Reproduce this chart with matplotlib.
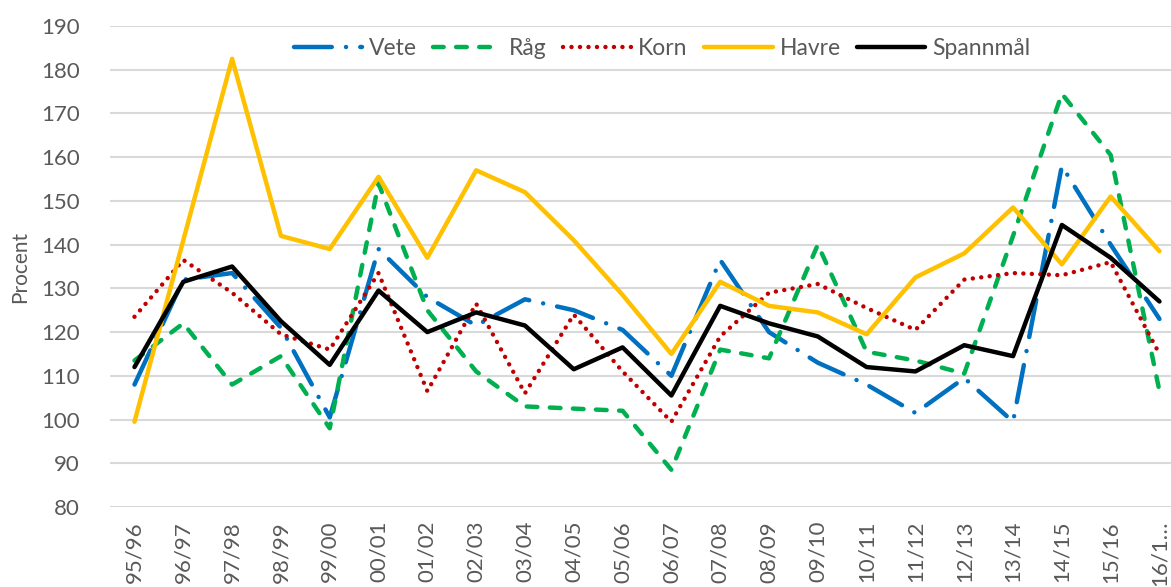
import matplotlib

matplotlib.use("Agg")
import matplotlib.pyplot as plt

plt.rcParams["font.family"] = ["Lato", "DejaVu Sans"]

# Categories (skördeår)
years = ["95/96", "96/97", "97/98", "98/99", "99/00", "00/01", "01/02", "02/03",
         "03/04", "04/05", "05/06", "06/07", "07/08", "08/09", "09/10", "10/11",
         "11/12", "12/13", "13/14", "14/15", "15/16", "16/1…"]

# Series values, procent
vete = [108, 132, 133.5, 121, 100.5, 139, 128, 121.5, 127.5, 125, 120.5, 110,
        136.5, 120, 113, 108, 101.5, 109.5, 99.5, 158, 140, 123]
rag = [113.5, 122, 108, 114.5, 98, 154, 125, 111, 103, 102.5, 102, 88.5,
       116, 114, 140, 115.5, 113.5, 110.5, 142, 174.5, 160.5, 106.5]
korn = [123.5, 136.5, 129, 119.5, 116, 133.5, 106.5, 126.5, 106, 124, 111, 99.5,
        119, 129, 131, 125.5, 120.5, 132, 133.5, 133, 136, 115]
havre = [99.5, 141, 182.5, 142, 139, 155.5, 137, 157, 152, 141, 128.5, 115,
         131.5, 126, 124.5, 119.5, 132.5, 138, 148.5, 135.5, 151, 138.5]
spannmal = [112, 131.5, 135, 122.5, 112.5, 129.5, 120, 124.5, 121.5, 111.5, 116.5, 105.5,
            126, 122, 119, 112, 111, 117, 114.5, 144.5, 137, 127]

text_col = "#595959"
lw = 3.2

fig = plt.figure(figsize=(11.71, 5.87), dpi=100)
ax = fig.add_axes([0.094, 0.1363, 0.917, 0.8194])

x = range(len(years))
ax.plot(x, vete, color="#0070c0", lw=lw, ls=(0, (8.5, 3.2, 0.01, 3.2)),
        dash_capstyle="round", label="Vete")
ax.plot(x, rag, color="#00b050", lw=lw, ls=(0, (2.4, 2.8)),
        dash_capstyle="round", label="Råg")
ax.plot(x, korn, color="#c00000", lw=lw, ls=(0, (0.01, 1.9)),
        dash_capstyle="round", label="Korn")
ax.plot(x, havre, color="#ffc000", lw=lw, solid_capstyle="round", label="Havre")
ax.plot(x, spannmal, color="black", lw=lw, solid_capstyle="round", label="Spannmål")

ax.set_xlim(-0.5, len(years) - 0.5)
ax.set_ylim(80, 190)
ax.set_yticks(range(80, 191, 10))
ax.set_xticks(list(x))
ax.set_xticklabels(years, rotation=90, fontsize=16, color=text_col)
ax.tick_params(axis="y", labelsize=16, labelcolor=text_col, length=0, pad=22)
ax.tick_params(axis="x", length=0, pad=10)
ax.yaxis.grid(True, color="#d9d9d9", lw=1.5)
ax.set_axisbelow(True)
for s in ax.spines.values():
    s.set_visible(False)

ax.set_ylabel("Procent", fontsize=15, color=text_col)
ax.yaxis.set_label_coords(-0.074, 0.5)

leg = ax.legend(ncol=5, loc="center", bbox_to_anchor=(0.514, 0.954), frameon=False,
                fontsize=16.5, handlelength=3.0, handletextpad=0.3, columnspacing=0.7)
for t in leg.get_texts():
    t.set_color(text_col)

fig.savefig("out.png", dpi=100)
